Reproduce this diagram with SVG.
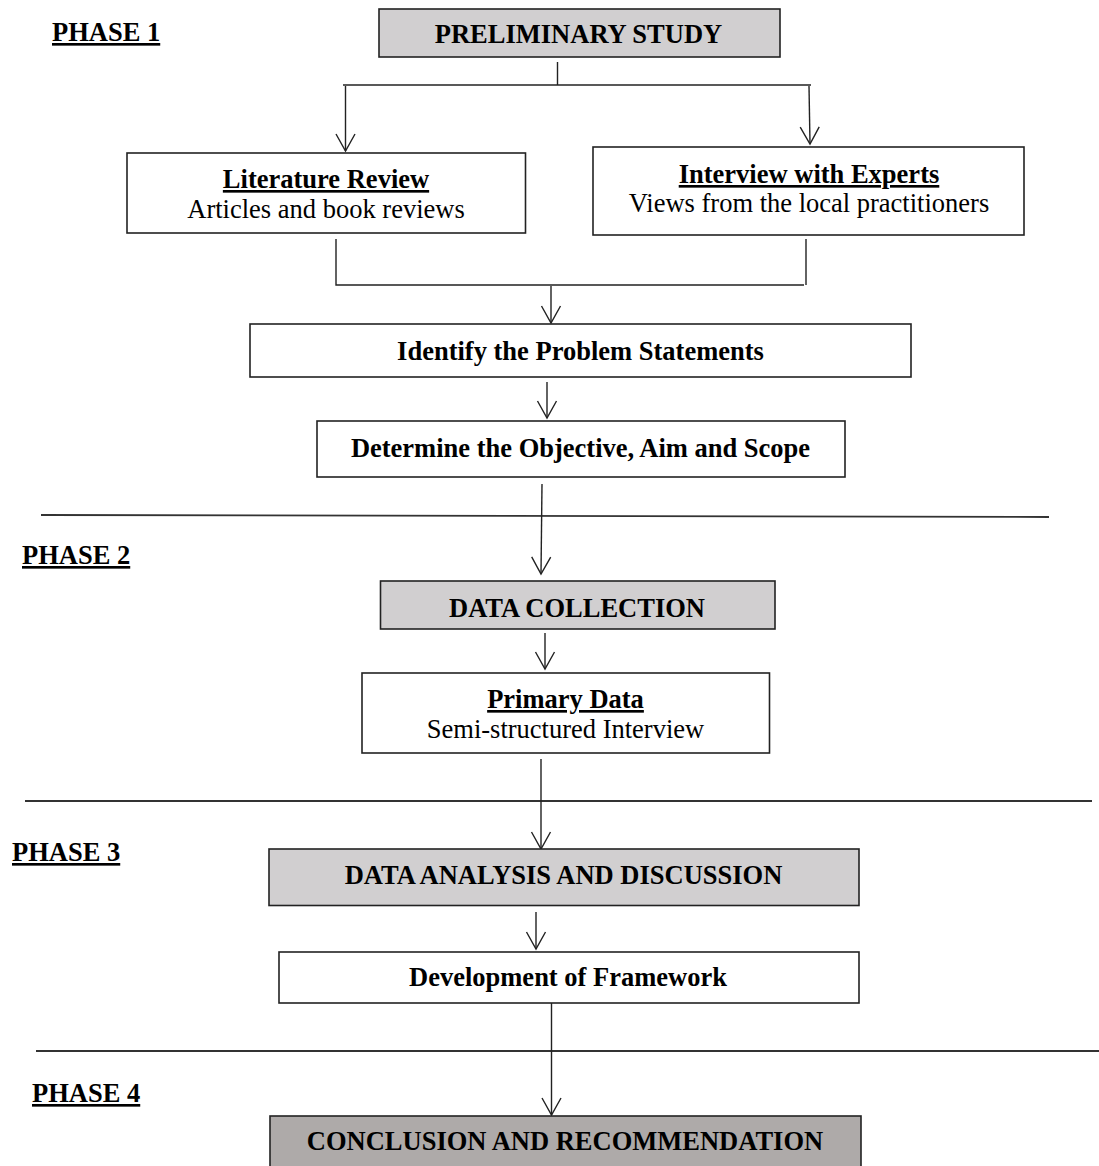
<svg xmlns="http://www.w3.org/2000/svg" width="1099" height="1166" viewBox="0 0 1099 1166">
<style>
text{font-family:"Liberation Serif","Times New Roman",serif;font-size:26.5px;fill:#000}
.b{font-weight:bold}
.u{text-decoration:underline}
.m{text-anchor:middle}
.box{fill:#fff;stroke:#222;stroke-width:1.6}
.gray{fill:#d1cfd0;stroke:#222;stroke-width:1.6}
.dark{fill:#aeaaa9;stroke:#222;stroke-width:1.6}
.ln{fill:none;stroke:#222;stroke-width:1.4}
.div{fill:none;stroke:#333;stroke-width:1.8}
</style>
<defs>
<marker id="arr" markerUnits="userSpaceOnUse" markerWidth="40" markerHeight="40" viewBox="-20 -20 40 40" refX="0" refY="0" orient="auto">
<path d="M-17,-9.5 L0,0 L-17,9.5" fill="none" stroke="#222" stroke-width="1.4"/>
</marker>
</defs>
<rect width="1099" height="1166" fill="#fff"/>
<g id="phase-labels">
<text id="phase1" class="b u" x="52" y="41">PHASE 1</text>
<text id="phase2" class="b u" x="22" y="564">PHASE 2</text>
<text id="phase3" class="b u" x="12" y="861">PHASE 3</text>
<text id="phase4" class="b u" x="32" y="1102">PHASE 4</text>
</g>
<g id="dividers">
<path class="div" d="M41,515 L1049,517"/>
<path class="div" d="M25,801 L1092,801"/>
<path class="div" d="M36,1051 L1099,1051"/>
</g>
<g id="connectors">
<path class="ln" d="M557.5,62 L557.5,85"/>
<path class="ln" d="M343,85 L811,85"/>
<path class="ln" d="M345.5,86 L345.5,151" marker-end="url(#arr)"/>
<path class="ln" d="M809,86 L810,144" marker-end="url(#arr)"/>
<path class="ln" d="M336,239 L336,285 L804,285"/>
<path class="ln" d="M806,239 L806,285"/>
<path class="ln" d="M551,286 L551,323" marker-end="url(#arr)"/>
<path class="ln" d="M547,382 L547,418" marker-end="url(#arr)"/>
<path class="ln" d="M542,484 L541,574" marker-end="url(#arr)"/>
<path class="ln" d="M545,633 L545,669" marker-end="url(#arr)"/>
<path class="ln" d="M541,759 L541,849" marker-end="url(#arr)"/>
<path class="ln" d="M536,912 L536,949" marker-end="url(#arr)"/>
<path class="ln" d="M551.5,1003 L551.5,1115" marker-end="url(#arr)"/>
</g>
<g id="preliminary-study">
<rect class="gray" x="379" y="9" width="401" height="48"/>
<text class="b m" x="578.5" y="43">PRELIMINARY STUDY</text>
</g>
<g id="literature-review">
<rect class="box" x="127" y="153" width="398.5" height="80"/>
<text class="b u m" x="326" y="188">Literature Review</text>
<text class="m" x="326" y="218">Articles and book reviews</text>
</g>
<g id="interview-experts">
<rect class="box" x="593" y="147" width="431" height="88"/>
<text class="b u m" x="809" y="183">Interview with Experts</text>
<text class="m" x="809" y="212">Views from the local practitioners</text>
</g>
<g id="problem-statements">
<rect class="box" x="250" y="324" width="661" height="53"/>
<text class="b m" x="580.5" y="360">Identify the Problem Statements</text>
</g>
<g id="objective-aim-scope">
<rect class="box" x="317" y="421" width="528" height="56"/>
<text class="b m" x="580.5" y="457">Determine the Objective, Aim and Scope</text>
</g>
<g id="data-collection">
<rect class="gray" x="380.5" y="581" width="394.5" height="48"/>
<text class="b m" x="577" y="617">DATA COLLECTION</text>
</g>
<g id="primary-data">
<rect class="box" x="362" y="673" width="407.5" height="80"/>
<text class="b u m" x="565.5" y="708">Primary Data</text>
<text class="m" x="565.5" y="738">Semi-structured Interview</text>
</g>
<g id="data-analysis">
<rect class="gray" x="269" y="849" width="590" height="56.5"/>
<text class="b m" x="563.5" y="884">DATA ANALYSIS AND DISCUSSION</text>
</g>
<g id="framework">
<rect class="box" x="279" y="952" width="580" height="51"/>
<text class="b m" x="568" y="986">Development of Framework</text>
</g>
<g id="conclusion">
<rect class="dark" x="270" y="1116" width="591" height="60"/>
<text class="b m" x="565" y="1150">CONCLUSION AND RECOMMENDATION</text>
</g>
</svg>
